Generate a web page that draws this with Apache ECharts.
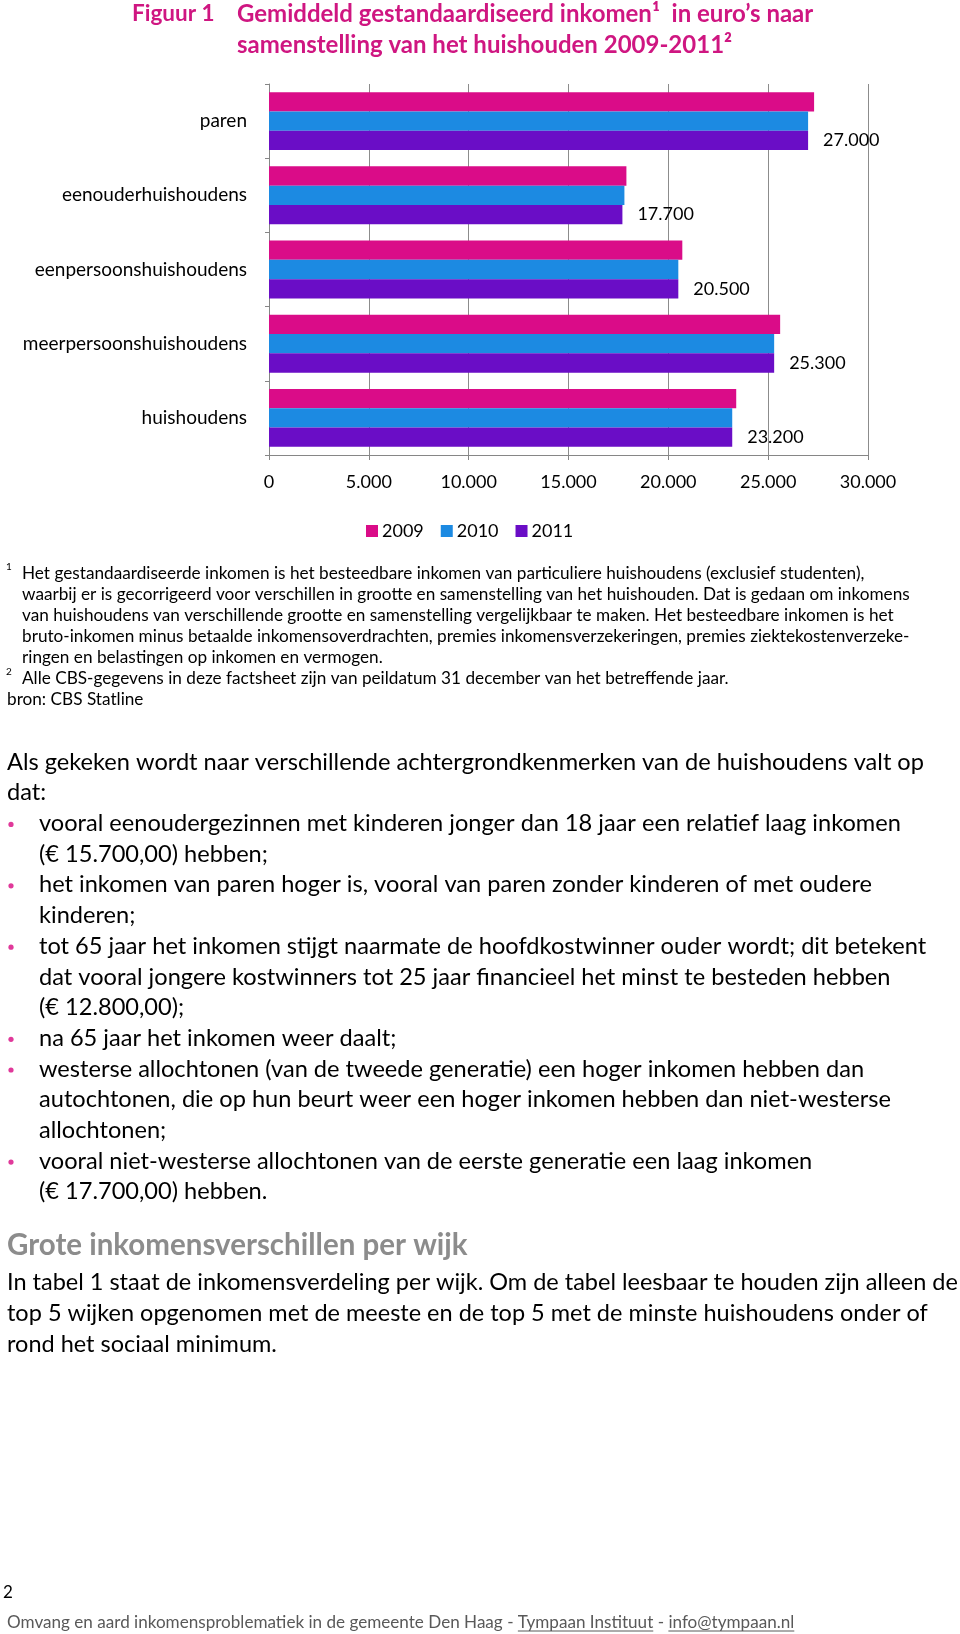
<!DOCTYPE html>
<html><head><meta charset="utf-8">
<script src="https://cdn.jsdelivr.net/npm/echarts@6/dist/echarts.min.js"></script>
<style>html,body{margin:0;padding:0;background:#fff}#c{width:960px;height:1634px}</style>
</head><body><div id="c"></div>
<script>
// ---- data ----
const categories = ['paren','eenouderhuishoudens','eenpersoonshuishoudens','meerpersoonshuishoudens','huishoudens'];
const seriesNames = ['2009','2010','2011'];
const v2009 = [27300, 17900, 20700, 25600, 23400];
const v2010 = [27000, 17800, 20500, 25300, 23200];
const v2011 = [27000, 17700, 20500, 25300, 23200];
const xTickValues = [0, 5000, 10000, 15000, 20000, 25000, 30000];

// ---- texts ----
const titleLabel = 'Figuur 1';
const titleLines = ['Gemiddeld gestandaardiseerd inkomen\u00b9  in euro\u2019s naar', 'samenstelling van het huishouden 2009-2011\u00b2'];
const footnote1 = ['Het gestandaardiseerde inkomen is het besteedbare inkomen van particuliere huishoudens (exclusief studenten),',
  'waarbij er is gecorrigeerd voor verschillen in grootte en samenstelling van het huishouden. Dat is gedaan om inkomens',
  'van huishoudens van verschillende grootte en samenstelling vergelijkbaar te maken. Het besteedbare inkomen is het',
  'bruto-inkomen minus betaalde inkomensoverdrachten, premies inkomensverzekeringen, premies ziektekostenverzeke-',
  'ringen en belastingen op inkomen en vermogen.'];
const footnote2 = ['Alle CBS-gegevens in deze factsheet zijn van peildatum 31 december van het betreffende jaar.'];
const sourceLine = 'bron: CBS Statline';
const introLines = ['Als gekeken wordt naar verschillende achtergrondkenmerken van de huishoudens valt op', 'dat:'];
const bullets = [
  ['vooral eenoudergezinnen met kinderen jonger dan 18 jaar een relatief laag inkomen', '(\u20ac 15.700,00) hebben;'],
  ['het inkomen van paren hoger is, vooral van paren zonder kinderen of met oudere', 'kinderen;'],
  ['tot 65 jaar het inkomen stijgt naarmate de hoofdkostwinner ouder wordt; dit betekent', 'dat vooral jongere kostwinners tot 25 jaar financieel het minst te besteden hebben', '(\u20ac 12.800,00);'],
  ['na 65 jaar het inkomen weer daalt;'],
  ['westerse allochtonen (van de tweede generatie) een hoger inkomen hebben dan', 'autochtonen, die op hun beurt weer een hoger inkomen hebben dan niet-westerse', 'allochtonen;'],
  ['vooral niet-westerse allochtonen van de eerste generatie een laag inkomen', '(\u20ac 17.700,00) hebben.']
];
const headingText = 'Grote inkomensverschillen per wijk';
const paraLines = ['In tabel 1 staat de inkomensverdeling per wijk. Om de tabel leesbaar te houden zijn alleen de',
  'top 5 wijken opgenomen met de meeste en de top 5 met de minste huishoudens onder of',
  'rond het sociaal minimum.'];
const pageNumber = '2';
const footerParts = ['Omvang en aard inkomensproblematiek in de gemeente Den Haag - ', 'Tympaan Instituut', ' - ', 'info@tympaan.nl'];

// ---- styling ----
const FONT = "Lato, 'Open Sans', sans-serif";
const colors = ['#DA0C88', '#1C8AE2', '#6A0DC6'];
const fmt = v => String(v).replace(/\B(?=(\d{3})+(?!\d))/g, '.');

const chart = echarts.init(document.getElementById('c'), null, {renderer: 'canvas'});
const g = [];
function txt(text, x, y, size, opts) {
  opts = opts || {};
  g.push({type: 'text', x: x, y: y, silent: true, style: {
    text: text, x: 0, y: 0, fontSize: size, fontFamily: FONT,
    fontWeight: opts.weight || 'normal', fill: opts.color || '#000',
    verticalAlign: 'middle', align: opts.align || 'left'}});
}
// title
txt(titleLabel, 132, 14, 22.5, {weight: 'bold', color: '#CF1681'});
titleLines.forEach((t, i) => txt(t, 237, 14 + i * 31, 24, {weight: 'bold', color: '#CF1681'}));
// footnotes
const fnSize = 17.2;
let fy = 573, fStep = 21;
txt('1', 6, fy - 6, 10);
footnote1.forEach((t, i) => txt(t, 22, fy + i * fStep, fnSize));
txt('2', 6, fy + 5 * fStep - 6, 10);
footnote2.forEach((t, i) => txt(t, 22, fy + (5 + i) * fStep, fnSize));
txt(sourceLine, 7, fy + 6 * fStep, fnSize);
// body
const bSize = 23.6;
let li = 0;
const by = 762, bStep = 30.7;
introLines.forEach(t => { txt(t, 7, by + li * bStep, bSize); li++; });
bullets.forEach(lines => {
  g.push({type: 'circle', silent: true, shape: {cx: 11, cy: by + li * bStep + 1, r: 2.6}, style: {fill: '#E0399A'}});
  lines.forEach(t => { txt(t, 39, by + li * bStep, bSize); li++; });
});
txt(headingText, 7, 1245, 29.5, {weight: 'bold', color: '#8C8C8C'});
paraLines.forEach((t, i) => txt(t, 7, 1282 + i * 31.4, 23.5));
txt(pageNumber, 3, 1593, 17);
// footer with underlines
const fSize = 17.1;
const ctx = document.createElement('canvas').getContext('2d');
ctx.font = fSize + 'px ' + FONT;
let fx = 7;
footerParts.forEach((p, i) => {
  const w = ctx.measureText(p).width;
  txt(p, fx, 1622, fSize, {color: '#595959'});
  if (i === 1 || i === 3) {
    g.push({type: 'line', silent: true, shape: {x1: fx, y1: 1631, x2: fx + w, y2: 1631}, style: {stroke: '#595959', lineWidth: 1}});
  }
  fx += w;
});

const series = [v2009, v2010, v2011].map((vals, i) => ({
  name: seriesNames[i], type: 'bar', data: vals,
  barGap: '0%', barCategoryGap: '22%',
  itemStyle: {color: colors[i]},
  label: i === 2 ? {show: true, position: 'right', distance: 15, fontSize: 18, fontFamily: FONT, color: '#000', formatter: p => fmt(p.value)} : {show: false}
}));

chart.setOption({
  animation: false,
  backgroundColor: '#fff',
  grid: {left: 269, top: 84, width: 599, height: 371, containLabel: false},
  legend: {
    data: seriesNames, left: 361, top: 517, icon: 'rect', itemWidth: 12, itemHeight: 12, itemGap: 17,
    textStyle: {fontSize: 18, fontFamily: FONT, color: '#000', padding: [0, 0, 0, -1]}
  },
  xAxis: {
    type: 'value', min: xTickValues[0], max: xTickValues[xTickValues.length - 1], interval: xTickValues[1] - xTickValues[0],
    axisLine: {show: true, lineStyle: {color: '#868686'}},
    axisTick: {show: true, length: 5, lineStyle: {color: '#868686'}},
    splitLine: {show: true, lineStyle: {color: '#8C8C8C', width: 1}},
    axisLabel: {fontSize: 18, fontFamily: FONT, color: '#000', margin: 18, formatter: v => fmt(v)}
  },
  yAxis: {
    type: 'category', data: categories, inverse: true,
    axisLine: {show: true, lineStyle: {color: '#868686'}},
    axisTick: {show: true, length: 4, lineStyle: {color: '#868686'}},
    axisLabel: {fontSize: 19, fontFamily: FONT, color: '#000', margin: 22}
  },
  series: series,
  graphic: g
});
</script></body></html>
